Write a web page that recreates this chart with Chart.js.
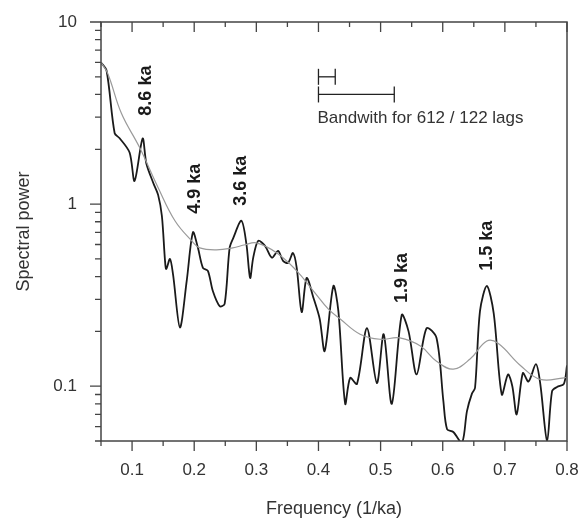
<!DOCTYPE html>
<html>
<head>
<meta charset="utf-8">
<script src="https://cdn.jsdelivr.net/npm/chart.js@4.4.0/dist/chart.umd.min.js"></script>
<style>
  html, body { margin: 0; padding: 0; background: #fff; }
  #wrap { width: 581px; height: 520px; }
</style>
</head>
<body>
<div id="wrap"><canvas id="chart" width="581" height="520"></canvas></div>
<script>
// spectrum (frequency in 1/ka, spectral power)
const freqRaw = [0.050, 0.059, 0.072, 0.080, 0.096, 0.104, 0.117, 0.123, 0.134, 0.142,
    0.148, 0.153, 0.155, 0.161, 0.166, 0.177, 0.188, 0.198, 0.206, 0.214,
    0.222, 0.230, 0.241, 0.249, 0.257, 0.263, 0.276, 0.284, 0.290, 0.295,
    0.303, 0.314, 0.325, 0.335, 0.343, 0.351, 0.359, 0.365, 0.373, 0.381,
    0.392, 0.402, 0.410, 0.424, 0.432, 0.443, 0.451, 0.462, 0.478, 0.494,
    0.505, 0.518, 0.534, 0.545, 0.558, 0.574, 0.590, 0.601, 0.607, 0.617,
    0.631, 0.639, 0.647, 0.652, 0.660, 0.671, 0.682, 0.695, 0.705, 0.712,
    0.719, 0.729, 0.738, 0.750, 0.757, 0.768, 0.776, 0.784, 0.795, 0.800];
const powerRaw = [6.0, 5.4, 2.45, 2.3, 1.92, 1.34, 2.29, 1.67, 1.31, 1.12,
    0.86, 0.49, 0.44, 0.50, 0.41, 0.21, 0.38, 0.70, 0.575, 0.447,
    0.43, 0.333, 0.275, 0.283, 0.575, 0.653, 0.81, 0.604, 0.393, 0.508,
    0.628, 0.59, 0.508, 0.554, 0.488, 0.475, 0.539, 0.447, 0.255, 0.393,
    0.305, 0.234, 0.156, 0.355, 0.259, 0.080, 0.111, 0.103, 0.208, 0.104,
    0.193, 0.080, 0.246, 0.200, 0.116, 0.208, 0.184, 0.083, 0.058, 0.056,
    0.049, 0.073, 0.091, 0.098, 0.259, 0.355, 0.252, 0.090, 0.116, 0.100,
    0.070, 0.118, 0.106, 0.132, 0.103, 0.050, 0.094, 0.099, 0.103, 0.130];

const freqSmooth = [0.050, 0.061, 0.083, 0.112, 0.142, 0.169, 0.196, 0.209, 0.236, 0.262,
    0.282, 0.300, 0.333, 0.365, 0.392, 0.416, 0.435, 0.467, 0.499, 0.531,
    0.564, 0.590, 0.617, 0.644, 0.671, 0.689, 0.725, 0.757, 0.795, 0.800];
const powerSmooth = [6.0, 5.2, 3.14, 2.05, 1.23, 0.81, 0.628, 0.575, 0.561, 0.575,
    0.598, 0.612, 0.539, 0.43, 0.333, 0.265, 0.234, 0.193, 0.181, 0.184,
    0.166, 0.137, 0.124, 0.141, 0.177, 0.172, 0.130, 0.109, 0.111, 0.112];

const xTickValues = [0.1, 0.2, 0.3, 0.4, 0.5, 0.6, 0.7, 0.8];
const xMinorValues = [0.05, 0.15, 0.25, 0.35, 0.45, 0.55, 0.65, 0.75];
const yTickValues = [0.1, 1, 10];
const yMinorValues = [0.05, 0.06, 0.07, 0.08, 0.09, 0.2, 0.3, 0.4, 0.5, 0.6, 0.7, 0.8, 0.9,
    2, 3, 4, 5, 6, 7, 8, 9];

// period labels: text, frequency, power where the rotated text starts
const peakLabels = ['8.6 ka', '4.9 ka', '3.6 ka', '1.9 ka', '1.5 ka'];
const peakFreq = [0.123, 0.201, 0.276, 0.534, 0.671];
const peakBase = [3.06, 0.885, 0.98, 0.286, 0.43];

// bandwidth bars
const bandNarrow = [0.4, 0.427];
const bandWide = [0.4, 0.522];
const bandLevels = [5, 4];
const bandText = 'Bandwith for 612 / 122 lags';
const bandTextLevel = 2.95;

const FONT = '"Liberation Sans", Arial, sans-serif';

function toPoints(xs, ys) {
    return xs.map((x, i) => ({ x: x, y: ys[i] }));
}

const frameTicks = {
    id: 'frameTicks',
    afterDatasetsDraw(chart) {
        const { ctx, chartArea: a, scales: { x, y } } = chart;
        ctx.save();
        ctx.strokeStyle = '#444';
        ctx.lineWidth = 1.5;
        ctx.strokeRect(a.left, a.top, a.right - a.left, a.bottom - a.top);

        ctx.lineWidth = 1.3;
        ctx.beginPath();
        xTickValues.forEach(v => {
            const px = x.getPixelForValue(v);
            ctx.moveTo(px, a.bottom); ctx.lineTo(px, a.bottom + 10);
            ctx.moveTo(px, a.top); ctx.lineTo(px, a.top + 10);
        });
        xMinorValues.forEach(v => {
            const px = x.getPixelForValue(v);
            ctx.moveTo(px, a.bottom); ctx.lineTo(px, a.bottom + 5);
            ctx.moveTo(px, a.top); ctx.lineTo(px, a.top + 5);
        });
        yTickValues.forEach(v => {
            const py = y.getPixelForValue(v);
            ctx.moveTo(a.left - 11, py); ctx.lineTo(a.left, py);
        });
        yMinorValues.forEach(v => {
            const py = y.getPixelForValue(v);
            ctx.moveTo(a.left - 6, py); ctx.lineTo(a.left, py);
        });
        ctx.stroke();
        ctx.restore();
    }
};

const labelsPlugin = {
    id: 'labelsPlugin',
    afterDraw(chart) {
        const { ctx, scales: { x, y } } = chart;
        ctx.save();
        ctx.fillStyle = '#1a1a1a';
        ctx.font = 'bold 18px ' + FONT;
        ctx.textAlign = 'left';
        ctx.textBaseline = 'middle';
        peakLabels.forEach((txt, i) => {
            ctx.save();
            ctx.translate(x.getPixelForValue(peakFreq[i]), y.getPixelForValue(peakBase[i]));
            ctx.rotate(-Math.PI / 2);
            ctx.fillText(txt, 0, 0);
            ctx.restore();
        });
        ctx.font = '17px ' + FONT;
        ctx.fillStyle = '#333';
        ctx.fillText(bandText, x.getPixelForValue(bandNarrow[0]) - 1, y.getPixelForValue(bandTextLevel));
        ctx.restore();
    }
};

const bandStyle = {
    borderColor: '#222',
    borderWidth: 1.3,
    pointStyle: 'line',
    pointRotation: 90,
    pointRadius: 8,
    pointBorderWidth: 1.3,
    pointBorderColor: '#222',
    showLine: true
};

new Chart(document.getElementById('chart'), {
    type: 'line',
    data: {
        datasets: [
            {
                label: 'smoothed',
                data: toPoints(freqSmooth, powerSmooth),
                borderColor: '#9a9a9a',
                borderWidth: 1.2,
                pointRadius: 0,
                tension: 0.4,
                fill: false
            },
            {
                label: 'spectrum',
                data: toPoints(freqRaw, powerRaw),
                borderColor: '#1a1a1a',
                borderWidth: 1.8,
                pointRadius: 0,
                tension: 0.3,
                fill: false
            },
            Object.assign({ label: '612 lags', data: toPoints(bandNarrow, [bandLevels[0], bandLevels[0]]) }, bandStyle),
            Object.assign({ label: '122 lags', data: toPoints(bandWide, [bandLevels[1], bandLevels[1]]) }, bandStyle)
        ]
    },
    options: {
        responsive: false,
        animation: false,
        layout: { padding: { top: 22, right: 14, left: 0, bottom: 0 } },
        plugins: {
            legend: { display: false },
            tooltip: { enabled: false }
        },
        scales: {
            x: {
                type: 'linear',
                min: 0.05,
                max: 0.8,
                grid: { display: false, drawTicks: false },
                border: { display: false },
                afterBuildTicks: s => { s.ticks = xTickValues.map(v => ({ value: v })); },
                afterFit: s => { s.height = 79; s.paddingLeft = 0; s.paddingRight = 0; },
                ticks: {
                    padding: 19,
                    color: '#333',
                    font: { family: FONT, size: 17 },
                    maxRotation: 0,
                    callback: v => v.toFixed(1)
                },
                title: {
                    display: true,
                    text: 'Frequency (1/ka)',
                    color: '#333',
                    font: { family: FONT, size: 18 },
                    padding: { top: 0, bottom: 0 }
                }
            },
            y: {
                type: 'logarithmic',
                min: 0.05,
                max: 10,
                grid: { display: false, drawTicks: false },
                border: { display: false },
                afterBuildTicks: s => { s.ticks = yTickValues.map(v => ({ value: v })); },
                afterFit: s => { s.width = 101; s.paddingTop = 0; s.paddingBottom = 0; },
                ticks: {
                    padding: 24,
                    color: '#333',
                    font: { family: FONT, size: 17 },
                    callback: v => String(v)
                },
                title: {
                    display: true,
                    text: 'Spectral power',
                    color: '#333',
                    font: { family: FONT, size: 18 },
                    padding: { top: 13, bottom: 0 }
                }
            }
        }
    },
    plugins: [frameTicks, labelsPlugin]
});
</script>
</body>
</html>
